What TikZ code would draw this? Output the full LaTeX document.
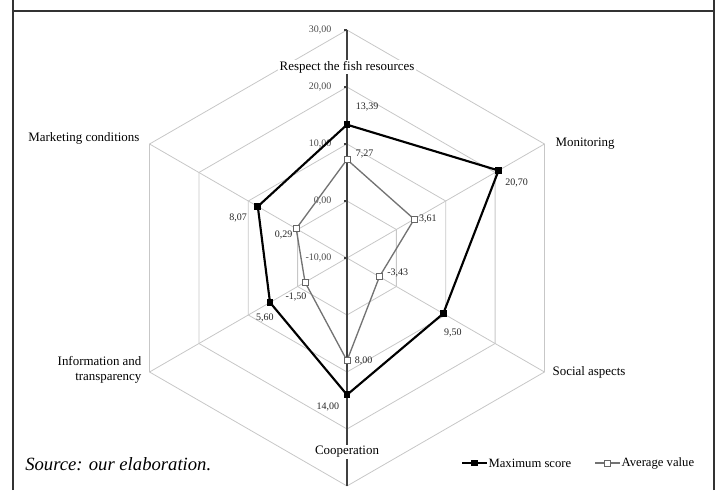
\documentclass[tikz,border=0pt]{standalone}
\usepackage{fontspec}
\setmainfont{Liberation Serif}
\begin{document}
\begin{tikzpicture}[x=0.75pt,y=0.75pt,
  grid/.style={draw=black!22, line width=0.6pt},
  axisline/.style={draw=black!75, line width=0.8pt},
  maxline/.style={draw=black, line width=1.6pt, line join=miter},
  avgline/.style={draw=black!55, line width=1pt},
  maxpt/.style={rectangle, fill=black, minimum size=5pt, inner sep=0pt},
  avgpt/.style={rectangle, fill=white, draw=black!60, line width=0.6pt, minimum size=4.5pt, inner sep=0pt},
  val/.style={font=\fontsize{7.5}{8.5}\selectfont, inner sep=0.5pt, text=black!85},
  cat/.style={font=\fontsize{9.7}{11.5}\selectfont, inner sep=1pt, fill=white},
  tick/.style={font=\fontsize{7.5}{8.5}\selectfont, text=black!70, anchor=east, inner sep=1pt},
  leg/.style={font=\fontsize{9.5}{10.5}\selectfont, anchor=west, inner sep=1pt}]
\useasboundingbox (0,0) rectangle (716,490);
% frame
\draw[black!80, line width=0.8pt] (13,0) -- (13,490) (714,0) -- (714,490) (13,479) -- (714,479);
% centre
\coordinate (C) at (347,232);
% rings
\foreach \r in {57,114,171,228}
  \draw[grid] (C) +(90:\r) -- +(30:\r) -- +(-30:\r) -- +(-90:\r) -- +(210:\r) -- +(150:\r) -- cycle;
% spokes
\foreach \a in {30,-30,210,150}
  \draw[grid] (C) -- +(\a:228);
\draw[axisline] (C) +(0,228) -- +(0,-228);
\foreach \r in {0,57,114,171,228}
  \draw[axisline] (C) +(-3,\r) -- +(0,\r);
% tick labels
\node[tick] (t0) at ([shift={(-14,0)}]C) {-10,00};
\node[tick] (t1) at ([shift={(-14,57)}]C) {0,00};
\node[tick] (t2) at ([shift={(-14,114)}]C) {10,00};
\node[tick] (t3) at ([shift={(-14,171)}]C) {20,00};
\node[tick] (t4) at ([shift={(-14,228)}]C) {30,00};
% category labels
\node[cat] (c1) at (347,423) {Respect the fish resources};
\node[cat, anchor=west] (c2) at (554,346) {Monitoring};
\node[cat, anchor=west] (c3) at (551,118) {Social aspects};
\node[cat] (c4) at (347,38) {Cooperation};
\node[cat, anchor=east, align=right] (c5) at (143,120) {Information and\\transparency};
\node[cat, anchor=east] (c6) at (141,352) {Marketing conditions};
% data points (r = (v+10)*5.7)
\coordinate (m1) at ([shift={(90:{(13.39+10)*5.7})}]C);
\coordinate (m2) at ([shift={(30:{(20.70+10)*5.7})}]C);
\coordinate (m3) at ([shift={(-30:{(9.50+10)*5.7})}]C);
\coordinate (m4) at ([shift={(-90:{(14.00+10)*5.7})}]C);
\coordinate (m5) at ([shift={(210:{(5.60+10)*5.7})}]C);
\coordinate (m6) at ([shift={(150:{(8.07+10)*5.7})}]C);
\coordinate (a1) at ([shift={(90:{(7.27+10)*5.7})}]C);
\coordinate (a2) at ([shift={(30:{(3.61+10)*5.7})}]C);
\coordinate (a3) at ([shift={(-30:{(-3.43+10)*5.7})}]C);
\coordinate (a4) at ([shift={(-90:{(8.00+10)*5.7})}]C);
\coordinate (a5) at ([shift={(210:{(-1.50+10)*5.7})}]C);
\coordinate (a6) at ([shift={(150:{(0.29+10)*5.7})}]C);
% series
\draw[avgline] (a1) -- (a2) -- (a3) -- (a4) -- (a5) -- (a6) -- cycle;
\draw[maxline] (m1) -- (m2) -- (m3) -- (m4) -- (m5) -- (m6) -- cycle;
\foreach \i in {1,...,6} {
  \node[avgpt] (pa\i) at (a\i) {};
  \node[maxpt] (pm\i) at (m\i) {};
}
% value labels
\node[val, anchor=west] (lm1) at ([shift={(8,18)}]m1) {13,39};
\node[val, anchor=west] (lm2) at ([shift={(6,-12)}]m2) {20,70};
\node[val, anchor=west] (lm3) at ([shift={(0,-19)}]m3) {9,50};
\node[val, anchor=east] (lm4) at ([shift={(-7,-12)}]m4) {14,00};
\node[val] (lm5) at ([shift={(-5,-15)}]m5) {5,60};
\node[val, anchor=east] (lm6) at ([shift={(-10,-11)}]m6) {8,07};
\node[val, anchor=west] (la1) at ([shift={(8,6)}]a1) {7,27};
\node[val, anchor=west] (la2) at ([shift={(4,0)}]a2) {3,61};
\node[val, anchor=west] (la3) at ([shift={(7,4)}]a3) {-3,43};
\node[val, anchor=west] (la4) at ([shift={(7,0)}]a4) {8,00};
\node[val] (la5) at ([shift={(-9,-15)}]a5) {-1,50};
\node[val, anchor=east] (la6) at ([shift={(-3,-6)}]a6) {0,29};
% legend
\coordinate (l1a) at (462,27); \coordinate (l1b) at (487,27);
\draw[maxline] (l1a) -- (l1b);
\node[maxpt] (lp1) at (474.5,27) {};
\node[leg] (lt1) at (487,27) {Maximum score};
\coordinate (l2a) at (595,27); \coordinate (l2b) at (620,27);
\draw[avgline] (l2a) -- (l2b);
\node[avgpt] (lp2) at (607.5,27) {};
\node[leg] (lt2) at (620,27) {Average value};
% source
\node[anchor=west, font=\fontsize{14}{16}\selectfont\itshape, inner sep=0pt] (src) at (25,26) {Source: our elaboration.};
\end{tikzpicture}
\end{document}
